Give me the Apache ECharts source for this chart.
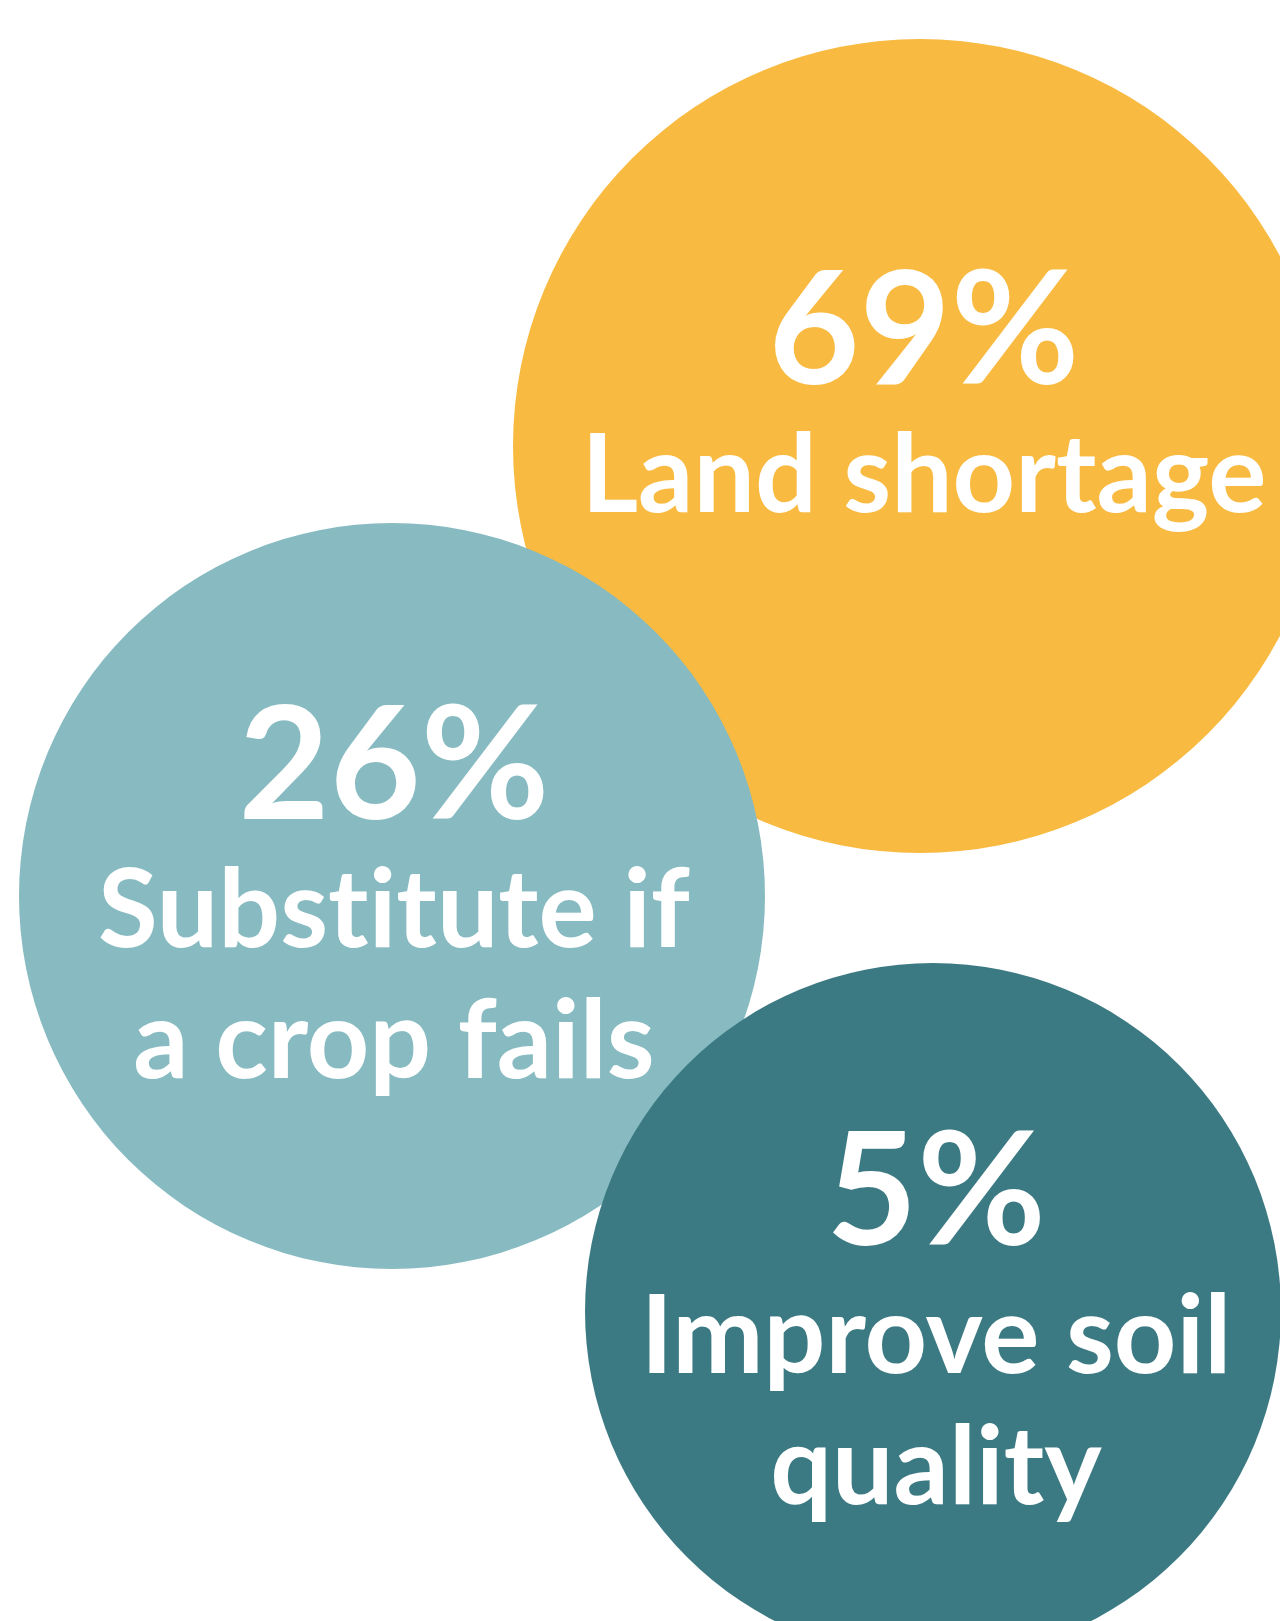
<!DOCTYPE html>
<html>
<head>
<meta charset="utf-8">
<style>
  html, body { margin: 0; padding: 0; background: #ffffff; }
  #chart { width: 1280px; height: 1621px; }
</style>
<script src="https://cdn.jsdelivr.net/npm/echarts@6/dist/echarts.min.js"></script>
</head>
<body>
<div id="chart"></div>
<script>
// ---- data ----
const categories = ['Land shortage', 'Substitute if\na crop fails', 'Improve soil\nquality'];
const values = [69, 26, 5];
const colors = ['#F8BA41', '#87BBC1', '#3C7A83'];

// ---- layout (pixel space of the 1280x1621 canvas) ----
const centersX = [920, 392, 933];
const centersY = [446, 896, 1311];
const radii = [407, 373, 348];
const labelOffsets = [[4, -47], [2, 3], [3, 14]];

const FONT = 'Lato, "Open Sans", sans-serif';
const NOLIG = '\u200C'; // zero-width non-joiner to break font ligatures (e.g. "ti")

const seriesData = values.map((v, i) => ({
  name: categories[i],
  value: [centersX[i], centersY[i], v],
  symbolSize: radii[i] * 2,
  itemStyle: { color: colors[i], opacity: 1 },
  label: { offset: labelOffsets[i] }
}));

const chart = echarts.init(document.getElementById('chart'), null, { renderer: 'canvas' });
chart.setOption({
  animation: false,
  backgroundColor: '#ffffff',
  grid: { left: 0, right: 0, top: 0, bottom: 0 },
  xAxis: { type: 'value', min: 0, max: 1280, show: false },
  yAxis: { type: 'value', min: 0, max: 1621, inverse: true, show: false },
  series: [{
    type: 'scatter',
    symbol: 'circle',
    data: seriesData,
    itemStyle: { opacity: 1 },
    emphasis: { disabled: true },
    silent: true,
    label: {
      show: true,
      position: 'inside',
      align: 'center',
      verticalAlign: 'middle',
      color: '#ffffff',
      opacity: 1,
      formatter: p => '{num|' + p.value[2] + '%}\n' +
        p.name.split('\n').map(s => '{txt|' + s.split('').join(NOLIG) + '}').join('\n'),
      rich: {
        num: { fontFamily: FONT, fontWeight: 700, fontSize: 157, lineHeight: 156, color: '#ffffff', align: 'center' },
        txt: { fontFamily: FONT, fontWeight: 700, fontSize: 109, lineHeight: 131, color: '#ffffff', align: 'center' }
      }
    }
  }]
});
</script>
</body>
</html>
